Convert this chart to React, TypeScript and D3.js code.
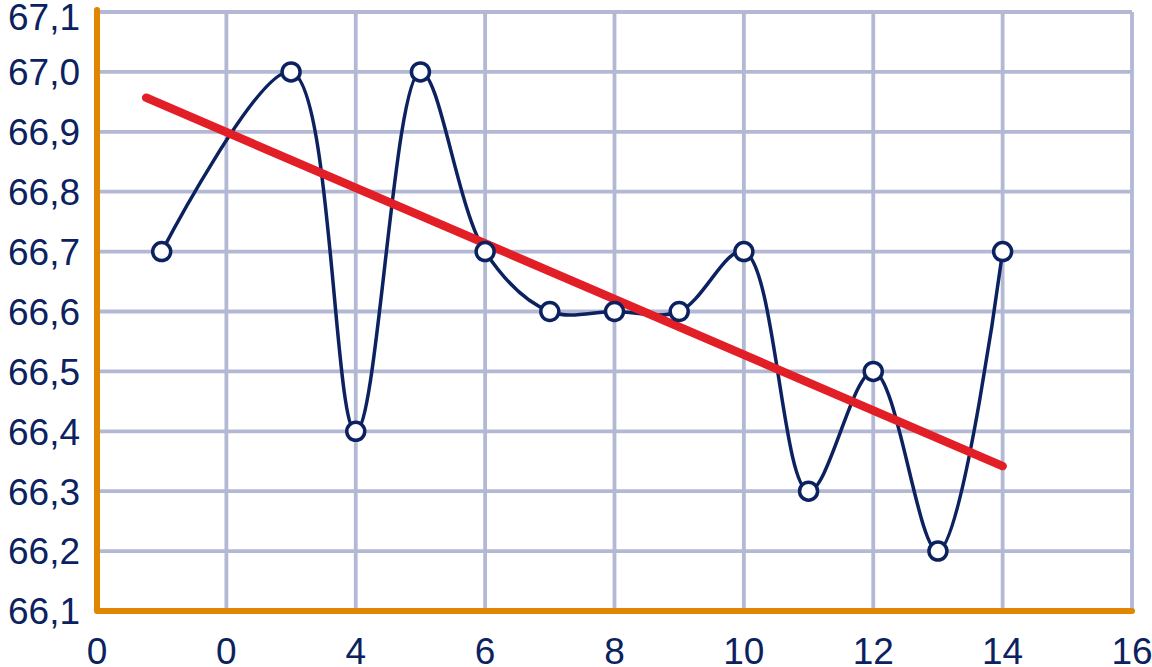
import React from "react";
import * as d3 from "d3";

const xValues = [1, 3, 4, 5, 6, 7, 8, 9, 10, 11, 12, 13, 14];
const yValues = [66.7, 67.0, 66.4, 67.0, 66.7, 66.6, 66.6, 66.6, 66.7, 66.3, 66.5, 66.2, 66.7];
const trendX = [0.76, 14];
const trendY = [66.957, 66.342];
const xTickValues = [0, 2, 4, 6, 8, 10, 12, 14, 16];
const xTickLabels = ["0", "0", "4", "6", "8", "10", "12", "14", "16"];
const yTickValues = [66.1, 66.2, 66.3, 66.4, 66.5, 66.6, 66.7, 66.8, 66.9, 67.0, 67.1];

const W = 1152;
const H = 667;
const NAVY = "#0c2160";
const GRID = "#b3b8d5";
const ORANGE = "#e08600";
const RED = "#e21f26";

export default function App() {
  const x = d3.scaleLinear().domain([0, 16]).range([97, 1132]);
  const y = d3.scaleLinear().domain([66.1, 67.1]).range([611, 12]);

  const pts: [number, number][] = xValues.map((v, i) => [x(v), y(yValues[i])]);
  const line = d3.line().curve(d3.curveCatmullRom.alpha(0.5))(pts) || "";
  const trend = d3.line()(trendX.map((v, i) => [x(v), y(trendY[i])] as [number, number])) || "";
  const fmt = (v: number) => v.toFixed(1).replace(".", ",");

  return (
    <svg width={W} height={H} style={{ position: "absolute", left: 0, top: 0 }}
      fontFamily="'Liberation Sans', Arial, sans-serif">
      {/* horizontal grid */}
      {yTickValues.map((v) => (
        <line key={"h" + v} x1={x(0)} x2={x(16)} y1={y(v)} y2={y(v)} stroke={GRID} strokeWidth={3.8} />
      ))}
      {/* vertical grid */}
      {xTickValues.filter((v) => v > 0).map((v) => (
        <line key={"v" + v} x1={x(v)} x2={x(v)} y1={y(67.1)} y2={y(66.1)} stroke={GRID} strokeWidth={3.8} />
      ))}
      {/* axes */}
      <path d={`M${x(0)},${y(67.1) - 2}V${y(66.1)}H${x(16)}`} fill="none" stroke={ORANGE}
        strokeWidth={6} strokeLinecap="round" strokeLinejoin="round" />
      {/* y labels */}
      {yTickValues.map((v) => (
        <text key={"yl" + v} x={80} y={Math.max(y(v), 17)} dy="0.36em" textAnchor="end" fontSize={37} fill={NAVY}>
          {fmt(v)}
        </text>
      ))}
      {/* x labels */}
      {xTickValues.map((v, i) => (
        <text key={"xl" + v} x={x(v)} y={664} textAnchor="middle" fontSize={37} fill={NAVY}>
          {xTickLabels[i]}
        </text>
      ))}
      {/* data line */}
      <path d={line} fill="none" stroke={NAVY} strokeWidth={3.5} />
      {/* trend */}
      <path d={trend} fill="none" stroke={RED} strokeWidth={8.5} strokeLinecap="round" />
      {/* markers */}
      {pts.map((p, i) => (
        <circle key={"c" + i} cx={p[0]} cy={p[1]} r={9} fill="#fff" stroke={NAVY} strokeWidth={3.5} />
      ))}
    </svg>
  );
}
